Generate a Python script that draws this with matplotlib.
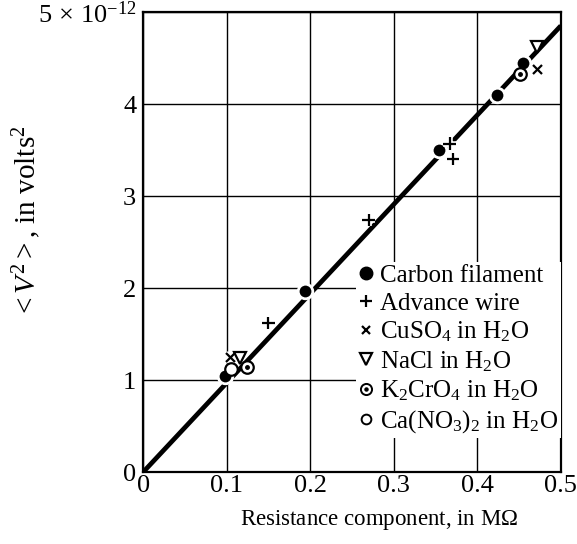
import matplotlib.pyplot as plt
import matplotlib.patheffects as pe
from matplotlib.lines import Line2D

plt.rcParams['font.family'] = ['Liberation Serif', 'DejaVu Serif']
plt.rcParams['mathtext.fontset'] = 'custom'
plt.rcParams['mathtext.rm'] = 'Liberation Serif'
plt.rcParams['mathtext.it'] = 'Liberation Serif:italic'
plt.rcParams['mathtext.bf'] = 'Liberation Serif:bold'

# data (x in MOhm, y in 1e-12 volts^2)
carbon_x = [0.098, 0.194, 0.354, 0.424, 0.455]
carbon_y = [1.04, 1.97, 3.50, 4.10, 4.45]
advance_x = [0.150, 0.270, 0.367, 0.371]
advance_y = [1.62, 2.74, 3.57, 3.40]
cuso4_x = [0.105, 0.472]
cuso4_y = [1.25, 4.37]
nacl_x = [0.116, 0.472]
nacl_y = [1.24, 4.62]
k2cro4_x = [0.124, 0.451]
k2cro4_y = [1.14, 4.33]
cano3_x = [0.105]
cano3_y = [1.12]
fit_x = [0.0, 0.5]
fit_y = [0.0, 4.85]

xticks = [0, 0.1, 0.2, 0.3, 0.4, 0.5]
xtick_labels = ['0', '0.1', '0.2', '0.3', '0.4', '0.5']
yticks = [0, 1, 2, 3, 4, 5]
ytick_labels = ['0', '1', '2', '3', '4', r'$5\,\times\,10^{-12}$']

fig = plt.figure(figsize=(5.77, 5.44), dpi=100)
ax = fig.add_axes([0.248, 0.132, 0.724, 0.846])

# fitted line, broken around the points by white halos on the markers
ax.plot(fit_x, fit_y, color='black', lw=3.4, solid_capstyle='butt', zorder=2)

halo = [pe.Stroke(linewidth=4, foreground='white'), pe.Normal()]
ax.plot(carbon_x, carbon_y, 'o', ms=10.5, color='black', mec='white', mew=2, zorder=4)
ax.plot(advance_x, advance_y, '+', ms=9, mew=1.6, color='black', zorder=5,
        path_effects=halo)
ax.plot(cuso4_x, cuso4_y, 'x', ms=6.5, mew=1.6, color='black', zorder=5,
        path_effects=halo)
ax.plot(nacl_x, nacl_y, 'v', ms=9, mfc='white', mec='black', mew=1.6, zorder=5)
ax.plot(k2cro4_x, k2cro4_y, 'o', ms=9, mfc='white', mec='black', mew=1.6, zorder=5)
ax.plot(k2cro4_x, k2cro4_y, 'o', ms=2.5, color='black', zorder=6)
ax.plot(cano3_x, cano3_y, 'o', ms=9, mfc='white', mec='black', mew=1.6, zorder=5)

ax.set_xlim(0, 0.5)
ax.set_ylim(0, 5)
ax.set_xticks(xticks)
ax.set_xticklabels(xtick_labels)
ax.set_yticks(yticks)
ax.set_yticklabels(ytick_labels)
ax.tick_params(length=0, labelsize=19, pad=2)
ax.tick_params(axis='y', pad=5)
ax.grid(True, color='black', lw=1.0)
for s in ax.spines.values():
    s.set_linewidth(1.6)

ax.set_xlabel(r'Resistance component, in M$\Omega$', fontsize=16.5)
ax.xaxis.set_label_coords(0.565, -0.078)
ax.set_ylabel(r'$<\!\,V^2\,\!>$, in volts$^2$', fontsize=21)
ax.yaxis.set_label_coords(-0.24, 0.545)

# legend
h_carbon = Line2D([], [], ls='none', marker='o', ms=9, color='black')
h_adv = Line2D([], [], ls='none', marker='+', ms=8, mew=1.6, color='black')
h_cu = Line2D([], [], ls='none', marker='x', ms=6, mew=1.6, color='black')
h_na = Line2D([], [], ls='none', marker='v', ms=8, mfc='white', mec='black', mew=1.6)
h_k_o = Line2D([], [], ls='none', marker='o', ms=8, mfc='white', mec='black', mew=1.4)
h_k_d = Line2D([], [], ls='none', marker='o', ms=2.2, color='black')
h_ca = Line2D([], [], ls='none', marker='o', ms=7, mfc='white', mec='black', mew=1.4)
labels = ['Carbon filament', 'Advance wire', r'CuSO$_4$ in H$_2$O',
          r'NaCl in H$_2$O', r'K$_2$CrO$_4$ in H$_2$O', r'Ca(NO$_3$)$_2$ in H$_2$O']
leg = ax.legend([h_carbon, h_adv, h_cu, h_na, (h_k_o, h_k_d), h_ca], labels,
                loc='lower right', bbox_to_anchor=(1.0, 0.075), fontsize=18,
                handlelength=0.55, handletextpad=0.3, labelspacing=0.2,
                borderpad=0.1, borderaxespad=0.0, frameon=True, fancybox=False)
leg.get_frame().set_facecolor('white')
leg.get_frame().set_edgecolor('none')
leg.get_frame().set_alpha(1)
leg.set_zorder(10)

fig.savefig('out.png', dpi=100)
